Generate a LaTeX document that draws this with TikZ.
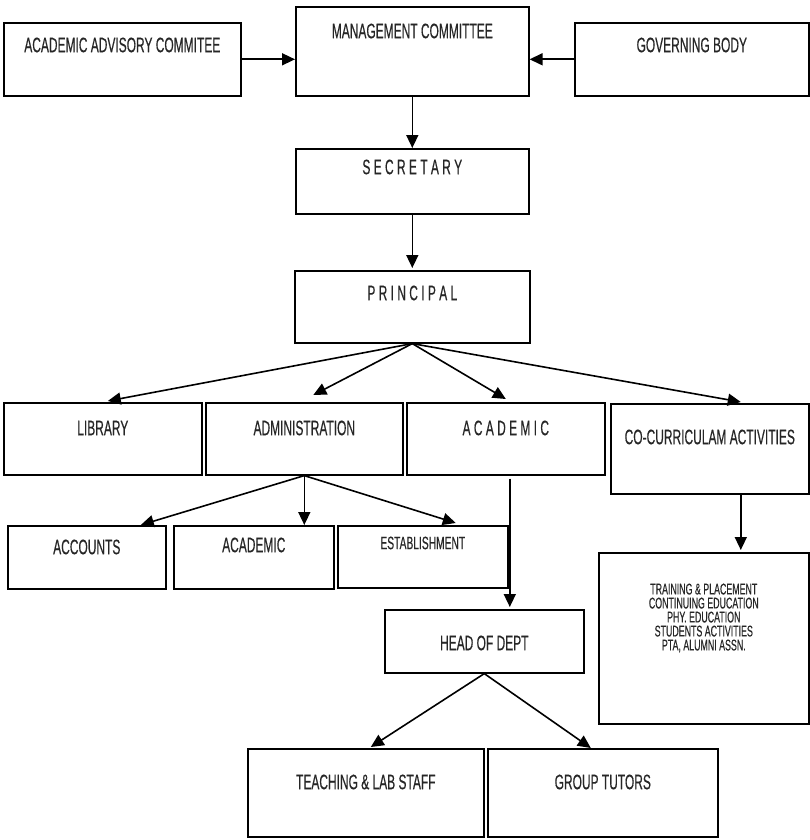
\documentclass[tikz,border=0pt]{standalone}
\usepackage{fontspec}
\setmainfont[FakeStretch=0.57,FakeBold=0.4]{Liberation Sans}
\usepackage{tikz}
\usetikzlibrary{arrows.meta}

\begin{document}
\begin{tikzpicture}[x=1pt,y=-1pt,>={Triangle[length=13pt,width=12pt]},
  box/.style={draw,line width=1.6pt,anchor=north west,inner sep=0pt},
  tag/.style={anchor=center,inner sep=0pt,text=black!85,font=\fontsize{21}{24}\selectfont},
  arr/.style={->,line width=1.6pt}]
\useasboundingbox (0,0) rectangle (809,840);
% top row
\node[box,minimum width=237pt,minimum height=73pt,label={[tag,yshift=-23pt]north:ACADEMIC ADVISORY COMMITEE}] (aac) at (3,22) {};
\node[box,minimum width=233pt,minimum height=89pt,label={[tag,yshift=-25pt]north:MANAGEMENT COMMITTEE}] (mgmt) at (295,6) {};
\node[box,minimum width=234pt,minimum height=73pt,label={[tag,yshift=-23pt]north:GOVERNING BODY}] (gov) at (574,22) {};
\node[box,minimum width=233pt,minimum height=65pt,label={[tag,yshift=-19pt]north:S E C R E T A R Y}] (sec) at (295,148) {};
\node[box,minimum width=235pt,minimum height=72pt,label={[tag,yshift=-23pt]north:P R I N C I P A L}] (prin) at (294,270) {};
% sections
\node[box,minimum width=198pt,minimum height=72pt,label={[tag,yshift=-26pt]north:LIBRARY}] (lib) at (3,402) {};
\node[box,minimum width=197pt,minimum height=72pt,label={[tag,yshift=-26pt]north:ADMINISTRATION}] (adm) at (205,402) {};
\node[box,minimum width=198pt,minimum height=72pt,label={[tag,yshift=-26pt]north:A C A D E M I C}] (aca) at (406,402) {};
\node[box,minimum width=198pt,minimum height=90pt,label={[tag,yshift=-34pt]north:CO-CURRICULAM ACTIVITIES}] (cca) at (610,403) {};
% administration
\node[box,minimum width=158pt,minimum height=63pt,label={[tag,yshift=-22pt]north:ACCOUNTS}] (acc) at (7,525) {};
\node[box,minimum width=160pt,minimum height=63pt,label={[tag,yshift=-20pt]north:ACADEMIC}] (acad) at (173,525) {};
\node[box,minimum width=170pt,minimum height=62pt,label={[tag,yshift=-18pt,font=\fontsize{18}{21}\selectfont]north:ESTABLISHMENT}] (est) at (337,525) {};
% academic
\node[box,minimum width=199pt,minimum height=63pt,label={[tag,yshift=-34pt]north:HEAD OF DEPT}] (hod) at (384,609) {};
\node[box,minimum width=236pt,minimum height=88pt,label={[tag,yshift=-34pt]north:TEACHING \& LAB STAFF}] (staff) at (247,748) {};
\node[box,minimum width=230pt,minimum height=88pt,label={[tag,yshift=-34pt]north:GROUP TUTORS}] (tut) at (487,748) {};
% activities
\node[box,minimum width=210pt,minimum height=171pt,label={[tag,yshift=-66pt,align=center,font=\fontsize{15.5}{14}\selectfont]north:TRAINING \& PLACEMENT\\CONTINUING EDUCATION\\PHY. EDUCATION\\STUDENTS ACTIVITIES\\PTA, ALUMNI ASSN.}] (trn) at (598,552) {};

\draw[arr] (aac.east) -- (aac.east -| mgmt.west);
\draw[arr] (gov.west) -- (gov.west -| mgmt.east);
\draw[arr] (mgmt.south) -- (sec.north);
\draw[arr] (sec.south) -- ([yshift=2pt]prin.north);
\draw[arr] (prin.south) -- ([xshift=5pt,yshift=1pt]lib.north);
\draw[arr] (prin.south) -- ([xshift=9pt,yshift=7pt]adm.north);
\draw[arr] (prin.south) -- ([yshift=3pt]aca.north);
\draw[arr] (prin.south) -- ([xshift=31pt,yshift=1pt]cca.north);
\draw[arr] (adm.south) -- ([xshift=54pt]acc.north);
\draw[arr] (adm.south) -- (adm.south |- acad.north);
\draw[arr] (adm.south) -- ([xshift=33pt,yshift=2pt]est.north);
\draw[arr] ([xshift=4pt,yshift=-3pt]aca.south) -- ([xshift=4pt,yshift=2pt]aca.south |- hod.north);
\draw[arr] ([xshift=31pt]cca.south) -- ([xshift=31pt,yshift=2pt]cca.south |- trn.north);
\draw[arr] (hod.south) -- ([xshift=5pt,yshift=1pt]staff.north);
\draw[arr] (hod.south) -- ([xshift=-12pt]tut.north);
\end{tikzpicture}
\end{document}
